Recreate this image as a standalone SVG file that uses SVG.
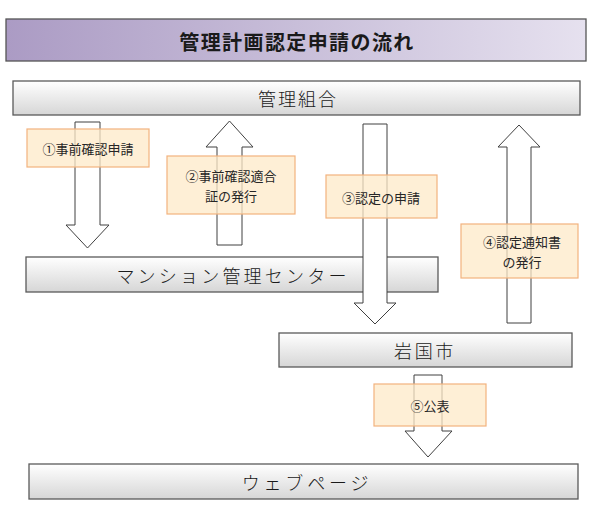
<svg xmlns="http://www.w3.org/2000/svg" width="593" height="515" viewBox="0 0 593 515">
  <defs>
    <linearGradient id="gTitle" x1="0" y1="0" x2="1" y2="0">
      <stop offset="0" stop-color="#ab9bc4"/>
      <stop offset="0.5" stop-color="#c8bed9"/>
      <stop offset="1" stop-color="#e6e1ef"/>
    </linearGradient>
    <linearGradient id="gBar" x1="0" y1="0" x2="0" y2="1">
      <stop offset="0" stop-color="#ffffff"/>
      <stop offset="1" stop-color="#d6d6d6"/>
    </linearGradient>
    <style>
      .bar { fill: url(#gBar); stroke: #5a5a5a; stroke-width: 1.3; }
      .arrow { fill: #ffffff; stroke: #404040; stroke-width: 1; }
      .lbl { fill: #fde9c8; fill-opacity: 0.75; stroke: #f2b27e; stroke-width: 1.2; }
      .t { font-family: "Noto Sans CJK JP", sans-serif; fill: #1a1a1a; text-anchor: middle; dominant-baseline: central; }
      .big { font-size: 18px; font-weight: 300; }
      .small { font-size: 13px; fill: #262626; }
    </style>
  </defs>
  <rect width="593" height="515" fill="#ffffff"/>

  <g id="title">
    <rect x="6" y="19" width="580" height="42" fill="url(#gTitle)" stroke="#555555" stroke-width="1.3"/>
    <text class="t" x="297" y="41" font-size="20" font-weight="bold" letter-spacing="1.4">管理計画認定申請の流れ</text>
  </g>

  <g id="kanri-kumiai">
    <rect class="bar" x="13" y="81" width="567" height="34"/>
    <text class="t big" x="298" y="98" letter-spacing="2">管理組合</text>
  </g>

  <g id="mansion-center">
    <rect class="bar" x="26" y="257" width="412" height="35"/>
    <text class="t big" x="233" y="275" letter-spacing="3.2">マンション管理センター</text>
  </g>

  <g id="iwakuni">
    <rect class="bar" x="279" y="333" width="293" height="34"/>
    <text class="t big" x="425" y="350" letter-spacing="2.7">岩国市</text>
  </g>

  <g id="webpage">
    <rect class="bar" x="29" y="464" width="549" height="35"/>
    <text class="t big" x="307" y="482" font-size="17" letter-spacing="3.8">ウェブページ</text>
  </g>

  <g id="connectors">
    <path class="arrow" d="M75,122 H100 V225 H109 L87.5,248 L66,225 H75 Z"/>
    <path class="arrow" d="M217,245 V147 H206 L229.5,121 L253,147 H242 V245 Z"/>
    <path class="arrow" d="M363,124 H387 V303 H396 L375,324 L354,303 H363 Z"/>
    <path class="arrow" d="M507,323 V147 H498 L519,125 L540,147 H531 V323 Z"/>
    <path class="arrow" d="M414,375 H442 V431 H452 L428,457 L405,431 H414 Z"/>
  </g>

  <g id="label1">
    <rect class="lbl" x="27" y="129" width="122" height="38"/>
    <text class="t small" x="88" y="148">①事前確認申請</text>
  </g>
  <g id="label2">
    <rect class="lbl" x="167" y="156" width="128" height="58"/>
    <text class="t small" x="231" y="175.5">②事前確認適合</text>
    <text class="t small" x="231" y="195.5">証の発行</text>
  </g>
  <g id="label3">
    <rect class="lbl" x="326" y="175" width="111" height="43"/>
    <text class="t small" x="381" y="197">③認定の申請</text>
  </g>
  <g id="label4">
    <rect class="lbl" x="461" y="224" width="117" height="54"/>
    <text class="t small" x="522" y="241">④認定通知書</text>
    <text class="t small" x="522" y="261">の発行</text>
  </g>
  <g id="label5">
    <rect class="lbl" x="374" y="384" width="112" height="42"/>
    <text class="t small" x="430" y="405">⑤公表</text>
  </g>
</svg>
